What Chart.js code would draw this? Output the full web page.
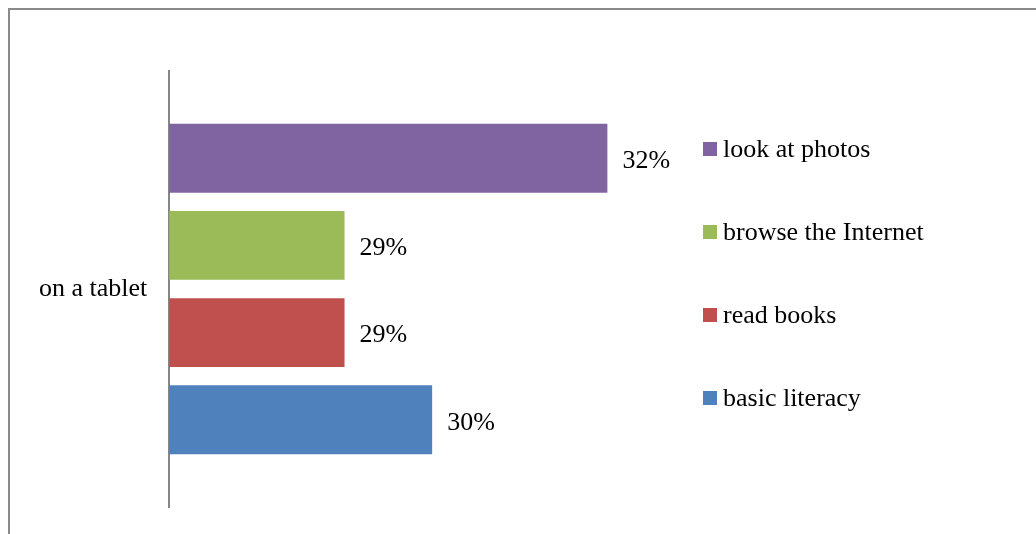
<!DOCTYPE html>
<html>
<head>
<meta charset="utf-8">
<script src="https://cdn.jsdelivr.net/npm/chart.js@4.4.1/dist/chart.umd.min.js"></script>
<style>
  html, body { margin: 0; padding: 0; background: #fff; }
  #wrap { position: relative; width: 1036px; height: 534px; }
</style>
</head>
<body>
<div id="wrap"><canvas id="myChart" width="1036" height="534"></canvas></div>
<script>
// one category, four series (listed top to bottom as in the legend)
var categories = ['on a tablet']
var series_names = ['look at photos', 'browse the Internet', 'read books', 'basic literacy']
var series_values = [32, 29, 29, 30]
var series_colors = ['#8064A2', '#9BBB59', '#C0504D', '#4F81BD']

var FONT = '"Liberation Serif", "Times New Roman", serif'
var FSIZE = 26

var datasets = []
for (var i = 0; i < series_names.length; i++) {
  datasets.push({
    label: series_names[i],
    data: [series_values[i]],
    backgroundColor: series_colors[i],
    borderWidth: 0,
    categoryPercentage: 0.8,
    barPercentage: 0.79
  })
}

// gray frame line along the top and left of the page
var framePlugin = {
  id: 'frame',
  beforeDraw: function(chart) {
    var c = chart.ctx
    c.save()
    c.strokeStyle = '#8a8a8a'
    c.lineWidth = 2
    c.beginPath()
    c.moveTo(9, 534)
    c.lineTo(9, 9)
    c.lineTo(1036, 9)
    c.stroke()
    c.restore()
  }
}

// percent labels right of each bar
var valueLabels = {
  id: 'valueLabels',
  afterDatasetsDraw: function(chart) {
    var c = chart.ctx
    c.save()
    c.font = FSIZE + 'px ' + FONT
    c.fillStyle = '#000'
    c.textAlign = 'left'
    c.textBaseline = 'middle'
    chart.data.datasets.forEach(function(ds, i) {
      var meta = chart.getDatasetMeta(i)
      meta.data.forEach(function(bar, j) {
        c.fillText(ds.data[j] + '%', bar.x + 15, bar.y + 3)
      })
    })
    c.restore()
  }
}

// legend on the right, square markers, wide spacing
var sideLegend = {
  id: 'sideLegend',
  afterDraw: function(chart) {
    var c = chart.ctx
    var x = 703, y0 = 149, step = 83
    c.save()
    c.font = FSIZE + 'px ' + FONT
    c.textBaseline = 'middle'
    c.textAlign = 'left'
    chart.data.datasets.forEach(function(ds, i) {
      var y = y0 + i * step
      c.fillStyle = ds.backgroundColor
      c.fillRect(x, y - 7, 14, 14)
      c.fillStyle = '#000'
      c.fillText(ds.label, x + 20, y + 1)
    })
    c.restore()
  }
}

const ctx = document.getElementById('myChart')

new Chart(ctx, {
  type: 'bar',
  data: {
    labels: categories,
    datasets: datasets
  },
  plugins: [framePlugin, valueLabels, sideLegend],
  options: {
    indexAxis: 'y',
    responsive: false,
    animation: false,
    layout: {
      padding: { left: 17, top: 71, bottom: 27, right: 341 }
    },
    plugins: {
      legend: { display: false },
      tooltip: { enabled: false }
    },
    scales: {
      x: {
        display: false,
        min: 27,
        max: 33
      },
      y: {
        grid: { display: false, drawTicks: false },
        border: { display: true, color: '#868686', width: 2 },
        ticks: {
          color: '#000',
          padding: 22,
          font: { family: FONT, size: FSIZE }
        },
        // let the layout padding alone decide the top/bottom of the axis
        afterFit: function(scale) {
          scale.paddingTop = 0
          scale.paddingBottom = 0
        }
      }
    }
  }
});
</script>
</body>
</html>
